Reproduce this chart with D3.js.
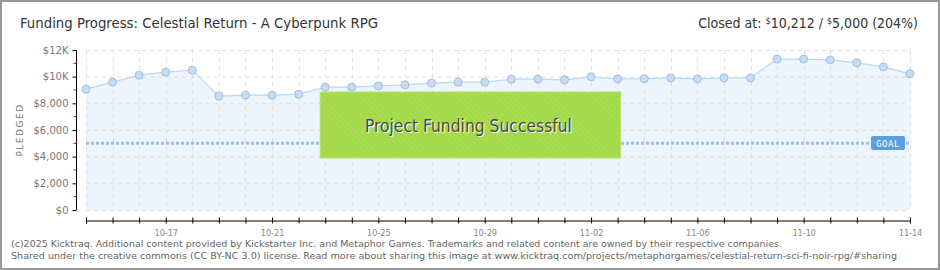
<!DOCTYPE html>
<html>
<head>
<meta charset="utf-8">
<script src="https://cdn.jsdelivr.net/npm/d3@7"></script>
<style>
  body { margin: 0; background: #fff; }
  svg { display: block; }
</style>
</head>
<body>
<div id="chart"></div>
<script>
// daily pledge totals
const dates = [
  "2025-10-14","2025-10-15","2025-10-16","2025-10-17","2025-10-18","2025-10-19","2025-10-20","2025-10-21",
  "2025-10-22","2025-10-23","2025-10-24","2025-10-25","2025-10-26","2025-10-27","2025-10-28","2025-10-29",
  "2025-10-30","2025-10-31","2025-11-01","2025-11-02","2025-11-03","2025-11-04","2025-11-05","2025-11-06",
  "2025-11-07","2025-11-08","2025-11-09","2025-11-10","2025-11-11","2025-11-12","2025-11-13","2025-11-14"
];
const pledged = [
  9060, 9590, 10110, 10340, 10490, 8540, 8610, 8610,
  8690, 9210, 9210, 9310, 9390, 9510, 9590, 9590,
  9815, 9815, 9760, 9990, 9840, 9840, 9910, 9840,
  9910, 9910, 11320, 11320, 11260, 11040, 10740, 10212
];
const goal = 5000;
const yTicks = [0, 2000, 4000, 6000, 8000, 10000, 12000];
const yMinorTicks = [1000, 3000, 5000, 7000, 9000, 11000];
const xLabels = ["10-17", "10-21", "10-25", "10-29", "11-02", "11-06", "11-10", "11-14"];

const width = 940, height = 270;
const parse = d3.utcParse("%Y-%m-%d");
const fmtDay = d3.utcFormat("%m-%d");
const data = dates.map((d, i) => ({ date: parse(d), value: pledged[i] }));

const svg = d3.select("#chart").append("svg")
  .attr("width", width)
  .attr("height", height);

const x = d3.scaleUtc()
  .domain(d3.extent(data, d => d.date))
  .range([86, 910]);

const y = d3.scaleLinear()
  .domain([0, 12000])
  .range([210, 50]);

// outer frame
svg.append("rect")
  .attr("x", 1).attr("y", 1)
  .attr("width", width - 2).attr("height", height - 2)
  .attr("fill", "none")
  .attr("stroke", "#999")
  .attr("stroke-width", 2);

// titles
svg.append("text")
  .attr("x", 20).attr("y", 28)
  .attr("font-family", "DejaVu Sans Condensed, DejaVu Sans, sans-serif")
  .attr("font-size", 14)
  .attr("fill", "#333")
  .attr("textLength", 358)
  .attr("lengthAdjust", "spacingAndGlyphs")
  .text("Funding Progress: Celestial Return - A Cyberpunk RPG");

const closed = svg.append("text")
  .attr("x", 918).attr("y", 28)
  .attr("text-anchor", "end")
  .attr("font-family", "DejaVu Sans Condensed, DejaVu Sans, sans-serif")
  .attr("font-size", 14)
  .attr("fill", "#333");
closed.append("tspan").text("Closed at:  ");
closed.append("tspan").attr("font-size", 9).attr("dy", -4).text("$");
closed.append("tspan").attr("dy", 4).text(d3.format(",")(pledged[pledged.length - 1]) + " /  ");
closed.append("tspan").attr("font-size", 9).attr("dy", -4).text("$");
closed.append("tspan").attr("dy", 4)
  .text(d3.format(",")(goal) + " (" + Math.round(pledged[pledged.length - 1] / goal * 100) + "%)");

// area under the line
svg.append("path")
  .datum(data)
  .attr("fill", "#edf4fc")
  .attr("d", d3.area().x(d => x(d.date)).y0(y(0)).y1(d => y(d.value)));

// grid
const grid = svg.append("g").attr("stroke", "#dcdfe3").attr("stroke-dasharray", "4,4");
grid.selectAll("line.h").data(yTicks).join("line")
  .attr("class", "h")
  .attr("x1", x.range()[0]).attr("x2", x.range()[1])
  .attr("y1", d => y(d) + 0.5).attr("y2", d => y(d) + 0.5);
grid.selectAll("line.v").data(data).join("line")
  .attr("class", "v")
  .attr("x1", d => Math.round(x(d.date)) + 0.5).attr("x2", d => Math.round(x(d.date)) + 0.5)
  .attr("y1", y(12000)).attr("y2", y(0));

// goal line
svg.append("line")
  .attr("x1", x.range()[0]).attr("x2", x.range()[1])
  .attr("y1", y(goal)).attr("y2", y(goal))
  .attr("stroke", "#9cc2ec")
  .attr("stroke-width", 3)
  .attr("stroke-dasharray", "3,2");

// pledge line + points
svg.append("path")
  .datum(data)
  .attr("fill", "none")
  .attr("stroke", "#bcd8f4")
  .attr("stroke-width", 1.2)
  .attr("d", d3.line().x(d => x(d.date)).y(d => y(d.value)));

svg.selectAll("circle.pt").data(data).join("circle")
  .attr("class", "pt")
  .attr("cx", d => x(d.date))
  .attr("cy", d => y(d.value))
  .attr("r", 4)
  .attr("fill", "#c4ddf7")
  .attr("stroke", "#97b3d6")
  .attr("stroke-width", 0.8);

// success banner
const defs = svg.append("defs");
const pat = defs.append("pattern")
  .attr("id", "hatch")
  .attr("width", 4).attr("height", 4)
  .attr("patternUnits", "userSpaceOnUse")
  .attr("patternTransform", "rotate(-45)");
pat.append("rect").attr("width", 4).attr("height", 4).attr("fill", "#a6dc4e");
pat.append("line").attr("x1", 0).attr("y1", 0).attr("x2", 0).attr("y2", 4)
  .attr("stroke", "#9ed346").attr("stroke-width", 1.5);

const bx0 = x(parse("2025-10-23")) - 5, bx1 = x(parse("2025-11-03")) + 3;
svg.append("rect")
  .attr("x", bx0).attr("y", 92)
  .attr("width", bx1 - bx0).attr("height", 66)
  .attr("fill", "url(#hatch)")
  .attr("stroke", "#b4e46c")
  .attr("stroke-width", 1);

const bannerText = "Project Funding Successful";
[["#fff", 1], ["#4a4a4a", 0]].forEach(([c, off]) => {
  svg.append("text")
    .attr("x", (bx0 + bx1) / 2 - 2 + off).attr("y", 132 + off)
    .attr("text-anchor", "middle")
    .attr("font-family", "DejaVu Sans Condensed, DejaVu Sans, sans-serif")
    .attr("font-size", 18)
    .attr("fill", c)
    .attr("textLength", 207)
    .attr("lengthAdjust", "spacingAndGlyphs")
    .text(bannerText);
});

// goal tag
svg.append("rect")
  .attr("x", 871).attr("y", 136)
  .attr("width", 34).attr("height", 14)
  .attr("rx", 2)
  .attr("fill", "#5b9fe0");
svg.append("text")
  .attr("x", 888).attr("y", 147)
  .attr("text-anchor", "middle")
  .attr("font-family", "DejaVu Sans Mono, monospace")
  .attr("font-size", 9)
  .attr("fill", "#fff")
  .attr("letter-spacing", 0.5)
  .text("GOAL");

// y axis
const yAxis = d3.axisLeft(y)
  .tickValues(yTicks)
  .tickSize(4)
  .tickPadding(4)
  .tickFormat(v => v >= 10000 ? "$" + v / 1000 + "K" : "$" + d3.format(",")(v));
const gy = svg.append("g")
  .attr("transform", "translate(76.5,0)")
  .call(yAxis);
gy.select(".domain").attr("stroke", "#000").attr("d", `M0,${y(12000)}V${y(0)}`);
gy.selectAll(".tick line").attr("stroke", "#000");
gy.selectAll("text")
  .attr("fill", "#777")
  .attr("font-size", 10)
  .attr("font-family", "DejaVu Sans, sans-serif");
gy.selectAll("line.minor").data(yMinorTicks).join("line")
  .attr("class", "minor")
  .attr("x1", -3).attr("x2", 0)
  .attr("y1", d => y(d)).attr("y2", d => y(d))
  .attr("stroke", "#e00");

svg.append("text")
  .attr("transform", `translate(23,${(y(0) + y(12000)) / 2}) rotate(-90)`)
  .attr("text-anchor", "middle")
  .attr("font-family", "DejaVu Sans, sans-serif")
  .attr("font-size", 9)
  .attr("letter-spacing", 1.5)
  .attr("fill", "#777")
  .text("PLEDGED");

// x axis
const xAxis = d3.axisBottom(x)
  .tickValues(data.map(d => d.date))
  .tickSizeInner(5)
  .tickSizeOuter(0)
  .tickPadding(4)
  .tickFormat(d => xLabels.includes(fmtDay(d)) ? fmtDay(d) : "");
const gx = svg.append("g")
  .attr("transform", "translate(0,220.5)")
  .call(xAxis);
gx.select(".domain").attr("stroke", "#000");
gx.selectAll(".tick line").attr("stroke", "#000").attr("y1", -3).attr("y2", 3);
gx.selectAll("text")
  .attr("fill", "#888")
  .attr("font-size", 9)
  .attr("font-family", "DejaVu Sans Condensed, DejaVu Sans, sans-serif");

// footer
const foot = [
  ["(c)2025 Kicktraq. Additional content provided by Kickstarter Inc. and Metaphor Games. Trademarks and related content are owned by their respective companies.", 247, 771],
  ["Shared under the creative commons (CC BY-NC 3.0) license. Read more about sharing this image at www.kicktraq.com/projects/metaphorgames/celestial-return-sci-fi-noir-rpg/#sharing", 259, 886]
];
svg.selectAll("text.foot").data(foot).join("text")
  .attr("class", "foot")
  .attr("x", 11)
  .attr("y", d => d[1])
  .attr("font-family", "DejaVu Sans, sans-serif")
  .attr("font-size", 9)
  .attr("fill", "#666")
  .attr("textLength", d => d[2])
  .attr("lengthAdjust", "spacingAndGlyphs")
  .text(d => d[0]);
</script>
</body>
</html>
